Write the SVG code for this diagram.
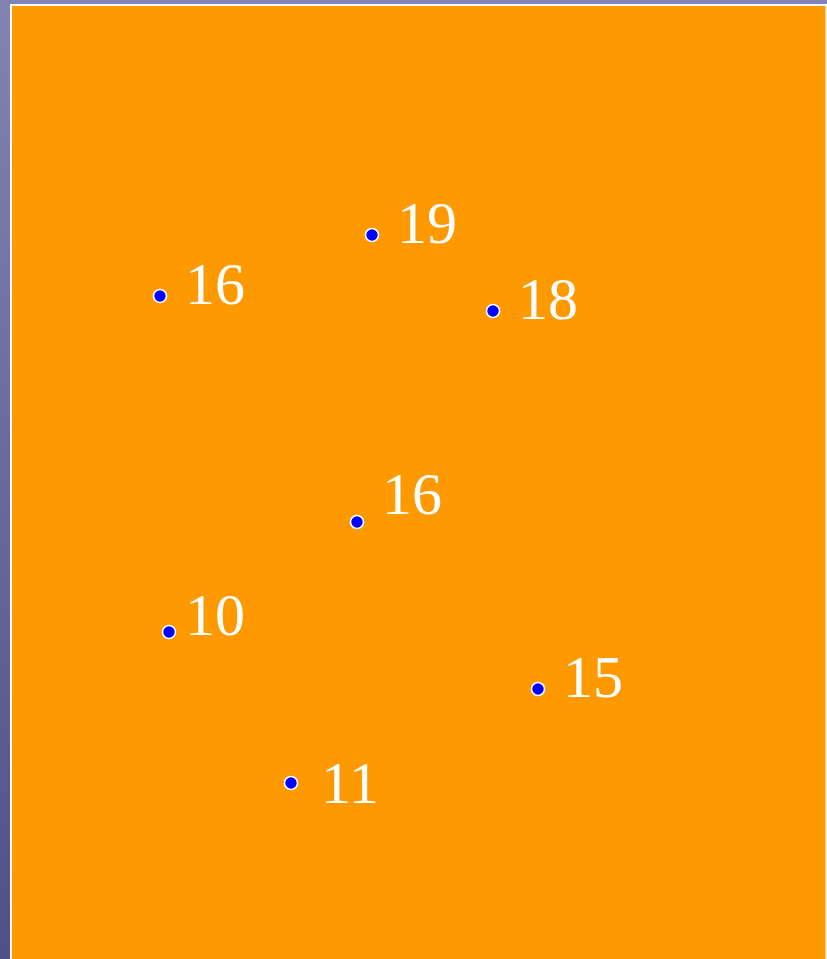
<svg xmlns="http://www.w3.org/2000/svg" width="827" height="959" viewBox="0 0 827 959">
  <defs>
    <linearGradient id="bg" x1="0" y1="0" x2="0" y2="1">
      <stop offset="0" stop-color="#8282b4"/>
      <stop offset="1" stop-color="#505086"/>
    </linearGradient>
    <style>
      .dot { fill: #0000ff; stroke: #ffffff; stroke-width: 1.6; }
      .lbl { fill: #ffffff; font-family: "Liberation Serif", "Times New Roman", serif; font-size: 60px; }
    </style>
  </defs>
  <rect x="0" y="0" width="827" height="959" fill="url(#bg)"/>
  <rect x="11" y="5" width="815.5" height="956" fill="#ff9900" stroke="#ffffff" stroke-width="2"/>
  <g id="p1"><circle class="dot" cx="160" cy="296" r="6.5"/><text class="lbl" x="185" y="304">16</text></g>
  <g id="p2"><circle class="dot" cx="372" cy="235" r="6.5"/><text class="lbl" x="397" y="243">19</text></g>
  <g id="p3"><circle class="dot" cx="493" cy="311" r="6.5"/><text class="lbl" x="518" y="319">18</text></g>
  <g id="p4"><circle class="dot" cx="357" cy="522" r="6.5"/><text class="lbl" x="382" y="514">16</text></g>
  <g id="p5"><circle class="dot" cx="169" cy="632" r="6.5"/><text class="lbl" x="185" y="635">10</text></g>
  <g id="p6"><circle class="dot" cx="538" cy="689" r="6.5"/><text class="lbl" x="563" y="697">15</text></g>
  <g id="p7"><circle class="dot" cx="291" cy="783" r="6.5"/><text class="lbl" x="321" y="803">11</text></g>
  <g id="connectors"></g>
</svg>
